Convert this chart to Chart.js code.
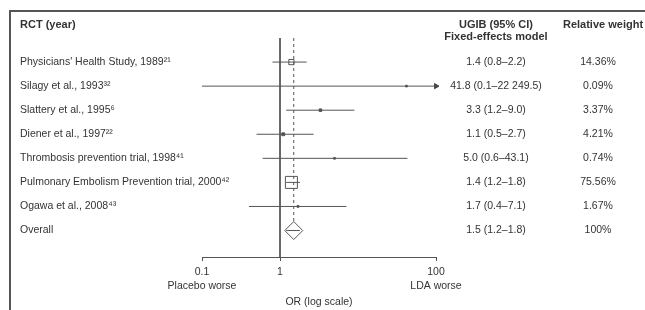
<!DOCTYPE html>
<html>
<head>
<meta charset="utf-8">
<script src="https://cdn.jsdelivr.net/npm/chart.js@4.4.1/dist/chart.umd.min.js"></script>
<style>
  html, body { margin: 0; padding: 0; background: #fff; }
  #wrap { width: 645px; height: 310px; position: relative; }
</style>
</head>
<body>
<div id="wrap"><canvas id="forest"></canvas></div>
<script>
const studies = [
  "Physicians' Health Study, 1989²¹",
  'Silagy et al., 1993³²',
  'Slattery et al., 1995⁶',
  'Diener et al., 1997²²',
  'Thrombosis prevention trial, 1998⁴¹',
  'Pulmonary Embolism Prevention trial, 2000⁴²',
  'Ogawa et al., 2008⁴³',
];
const oddsRatio = [1.4, 41.8, 3.3, 1.1, 5.0, 1.4, 1.7];
const ciLower = [0.8, 0.1, 1.2, 0.5, 0.6, 1.2, 0.4];
const ciUpper = [2.2, 22249.5, 9.0, 2.7, 43.1, 1.8, 7.1];
const weights = [14.36, 0.09, 3.37, 4.21, 0.74, 75.56, 1.67];

const overallOR = 1.5;
const overallCI = [1.2, 1.8];
const overallWeight = 100;

const xTicks = [0.1, 1, 100];

const TEXT = '#333';
const LINE = '#555';
const FONT = 'Liberation Sans, Arial, Helvetica, sans-serif';
const Y_AXIS_WIDTH = 182;

const rowLabels = [...studies, 'Overall'];
const rowValues = rowLabels.map((_, i) => i + 1);
const overallRow = rowLabels.length;
const yMax = overallRow + 1.1;
const xMin = xTicks[0];
const xMax = xTicks[xTicks.length - 1];

function fmt(v) {
  const [int, dec] = v.toFixed(1).split('.');
  return int.replace(/\B(?=(\d{3})+(?!\d))/g, ' ') + '.' + dec;
}
const ciText = oddsRatio.map((v, i) => `${fmt(v)} (${fmt(ciLower[i])}–${fmt(ciUpper[i])})`)
  .concat(`${fmt(overallOR)} (${fmt(overallCI[0])}–${fmt(overallCI[1])})`);
const weightText = weights.map((w) => w.toFixed(2) + '%').concat(overallWeight + '%');

// CI segments, separated by gaps
const ciSegments = [];
oddsRatio.forEach((_, i) => {
  ciSegments.push({ x: ciLower[i], y: i + 1 }, { x: ciUpper[i], y: i + 1 }, { x: ciUpper[i], y: null });
});
ciSegments.push({ x: overallCI[0], y: overallRow }, { x: overallCI[1], y: overallRow });

// square side follows weight, largest study = 12px
const maxW = Math.max(...weights);
const squareRadius = weights.map((w) => Math.max(1.2, (12 * Math.sqrt(w / maxW)) / Math.SQRT2));

const arrows = ciUpper
  .map((hi, i) => (hi > xMax ? { x: xMax, y: i + 1 } : null))
  .filter(Boolean);

const decorations = {
  id: 'decorations',
  beforeDraw(chart) {
    const { ctx } = chart;
    ctx.save();
    ctx.strokeStyle = LINE;
    ctx.lineWidth = 2;
    ctx.beginPath();
    ctx.moveTo(9, 11);
    ctx.lineTo(645, 11);
    ctx.moveTo(10, 10);
    ctx.lineTo(10, 310);
    ctx.stroke();
    ctx.restore();
  },
  afterDraw(chart) {
    const { ctx, scales } = chart;
    ctx.save();
    ctx.fillStyle = TEXT;
    ctx.textBaseline = 'middle';
    ctx.font = `bold 11px ${FONT}`;
    ctx.textAlign = 'left';
    ctx.fillText('RCT (year)', 20, 25);
    ctx.textAlign = 'center';
    ctx.fillText('UGIB (95% CI)', 496, 25);
    ctx.fillText('Fixed-effects model', 496, 37);
    ctx.fillText('Relative weight', 603, 25);

    ctx.font = `10.5px ${FONT}`;
    rowValues.forEach((row, i) => {
      const y = scales.y.getPixelForValue(row);
      ctx.fillText(ciText[i], 496, y);
      ctx.fillText(weightText[i], 598, y);
    });
    ctx.fillText('Placebo worse', scales.x.getPixelForValue(xMin), 286);
    ctx.fillText('LDA worse', scales.x.getPixelForValue(xMax), 286);
    ctx.restore();
  },
};

new Chart(document.getElementById('forest'), {
  type: 'scatter',
  data: {
    datasets: [
      {
        label: 'CI',
        data: ciSegments,
        showLine: true,
        spanGaps: false,
        borderColor: LINE,
        borderWidth: 1,
        pointRadius: 0,
        order: 0,
      },
      {
        label: 'arrow',
        data: arrows,
        pointStyle: 'triangle',
        rotation: 90,
        pointRadius: 3,
        backgroundColor: '#444',
        borderColor: '#444',
        borderWidth: 1,
        clip: false,
        order: 1,
      },
      {
        label: 'Overall',
        data: [{ x: overallOR, y: overallRow }],
        pointStyle: 'rectRot',
        pointRadius: 9,
        backgroundColor: '#fff',
        borderColor: LINE,
        borderWidth: 1,
        order: 2,
      },
      {
        label: 'overall line',
        data: [{ x: overallOR, y: 0 }, { x: overallOR, y: overallRow }],
        showLine: true,
        borderColor: LINE,
        borderWidth: 1,
        borderDash: [3, 3],
        pointRadius: 0,
        order: 3,
      },
      {
        label: 'OR',
        data: oddsRatio.map((v, i) => ({ x: v, y: i + 1 })),
        pointStyle: 'rect',
        pointRadius: squareRadius,
        backgroundColor: squareRadius.map((r) => (r * Math.SQRT2 < 4 ? '#444' : '#fff')),
        borderColor: LINE,
        borderWidth: 1,
        order: 4,
      },
      {
        label: 'no effect',
        data: [{ x: 1, y: 0 }, { x: 1, y: yMax }],
        showLine: true,
        borderColor: LINE,
        borderWidth: 1,
        pointRadius: 0,
        order: 5,
      },
    ],
  },
  options: {
    responsive: true,
    maintainAspectRatio: false,
    animation: false,
    events: [],
    layout: { padding: { left: 20, right: 209, top: 38, bottom: 0 } },
    plugins: { legend: { display: false }, tooltip: { enabled: false } },
    scales: {
      x: {
        type: 'logarithmic',
        min: xMin,
        max: xMax,
        afterBuildTicks: (s) => { s.ticks = xTicks.map((v) => ({ value: v })); },
        afterFit: (s) => { s.height = 53; },
        ticks: {
          autoSkip: false,
          maxRotation: 0,
          padding: 5,
          color: TEXT,
          font: { family: FONT, size: 10.5 },
          callback: (v) => String(v),
        },
        grid: { drawOnChartArea: false, tickLength: 4, color: LINE },
        border: { color: LINE },
        title: {
          display: true,
          text: 'OR (log scale)',
          color: TEXT,
          font: { family: FONT, size: 10.5 },
          padding: { top: 0, bottom: 2 },
        },
      },
      y: {
        type: 'linear',
        reverse: true,
        min: 0,
        max: yMax,
        afterBuildTicks: (s) => { s.ticks = rowValues.map((v) => ({ value: v })); },
        afterFit: (s) => { s.width = Y_AXIS_WIDTH; },
        ticks: {
          autoSkip: false,
          // mirrored so long labels are not clipped; pulled back to the left edge
          mirror: true,
          crossAlign: 'near',
          padding: -Y_AXIS_WIDTH,
          color: TEXT,
          font: { family: FONT, size: 10.5 },
          callback: (v, i) => rowLabels[i],
        },
        grid: { display: false },
        border: { display: false },
      },
    },
  },
  plugins: [decorations],
});
</script>
</body>
</html>
